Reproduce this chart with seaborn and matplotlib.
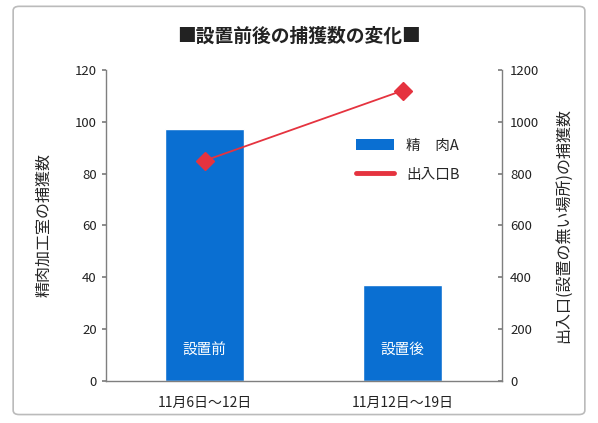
import matplotlib
matplotlib.use("Agg")
import matplotlib.pyplot as plt
import pandas as pd
import seaborn as sns
from matplotlib.lines import Line2D
from matplotlib.patches import FancyBboxPatch, Patch

periods = ["11月6日～12日", "11月12日～19日"]
bar_labels = ["設置前", "設置後"]
meat_counts = [97, 37]
entrance_counts = [850, 1120]

BLUE = "#0A6FD2"
RED = "#E5333F"
GRAY = "#7F7F7F"

sns.set_theme(style="white")
plt.rcParams["font.family"] = ["Noto Sans CJK JP", "DejaVu Sans"]

df = pd.DataFrame({"period": periods, "meat": meat_counts, "entrance": entrance_counts})

fig = plt.figure(figsize=(5.98, 4.23), dpi=100)
fig.patches.append(FancyBboxPatch((0.022, 0.02), 0.956, 0.965, boxstyle="round,pad=0,rounding_size=0.01",
                                  transform=fig.transFigure, facecolor="white", edgecolor="#BBBBBB",
                                  linewidth=1.2, zorder=-1))
ax = fig.add_axes([0.177, 0.099, 0.662, 0.736])
ax.set_facecolor("none")

sns.barplot(data=df, x="period", y="meat", color=BLUE, saturation=1, width=0.4, ax=ax)
ax.set_ylim(0, 120)
ax.set_yticks(range(0, 121, 20))
ax.set_xlim(-0.5, 1.5)
ax.set_xlabel("")
ax.set_ylabel("精肉加工室の捕獲数", fontsize=11.5, labelpad=16)
for i, lab in enumerate(bar_labels):
    ax.text(i, 12, lab, ha="center", va="center", color="white", fontsize=10.5)

ax2 = ax.twinx()
sns.pointplot(data=df, x="period", y="entrance", color=RED, markers="D", markersize=9,
              linewidth=1.3, ax=ax2)
ax2.set_ylim(0, 1200)
ax2.set_yticks(range(0, 1201, 200))
ax2.set_xlim(-0.5, 1.5)
ax2.set_ylabel("出入口(設置の無い場所)の捕獲数", fontsize=11.5, rotation=90, labelpad=12)
ax2.set_xlabel("")

for a in (ax, ax2):
    for side in ("top",):
        a.spines[side].set_visible(False)
    for side in ("left", "right", "bottom"):
        a.spines[side].set_color(GRAY)
        a.spines[side].set_linewidth(1.0)
    a.tick_params(axis="both", length=3, color=GRAY, labelsize=9.5, colors="#222222")
ax.spines["right"].set_visible(False)
ax2.spines["left"].set_visible(False)
ax2.spines["bottom"].set_visible(False)
ax.tick_params(axis="y", left=True, direction="out")
ax2.tick_params(axis="y", right=True, direction="in", pad=6)
ax.tick_params(axis="x", bottom=False, labelsize=10, pad=8)

handles = [Patch(facecolor=BLUE, edgecolor="none"), Line2D([0], [0], color=RED, linewidth=3.5)]
ax2.legend(handles, ["精　肉A", "出入口B"], loc="upper left", bbox_to_anchor=(0.6, 0.82),
           frameon=False, fontsize=10.5, handlelength=2.6, handleheight=0.8, labelspacing=1.0)

fig.text(0.5, 0.915, "■設置前後の捕獲数の変化■", ha="center", va="center", fontsize=13.5,
         fontweight="bold", color="#222222")

fig.savefig("out.png", dpi=100)
